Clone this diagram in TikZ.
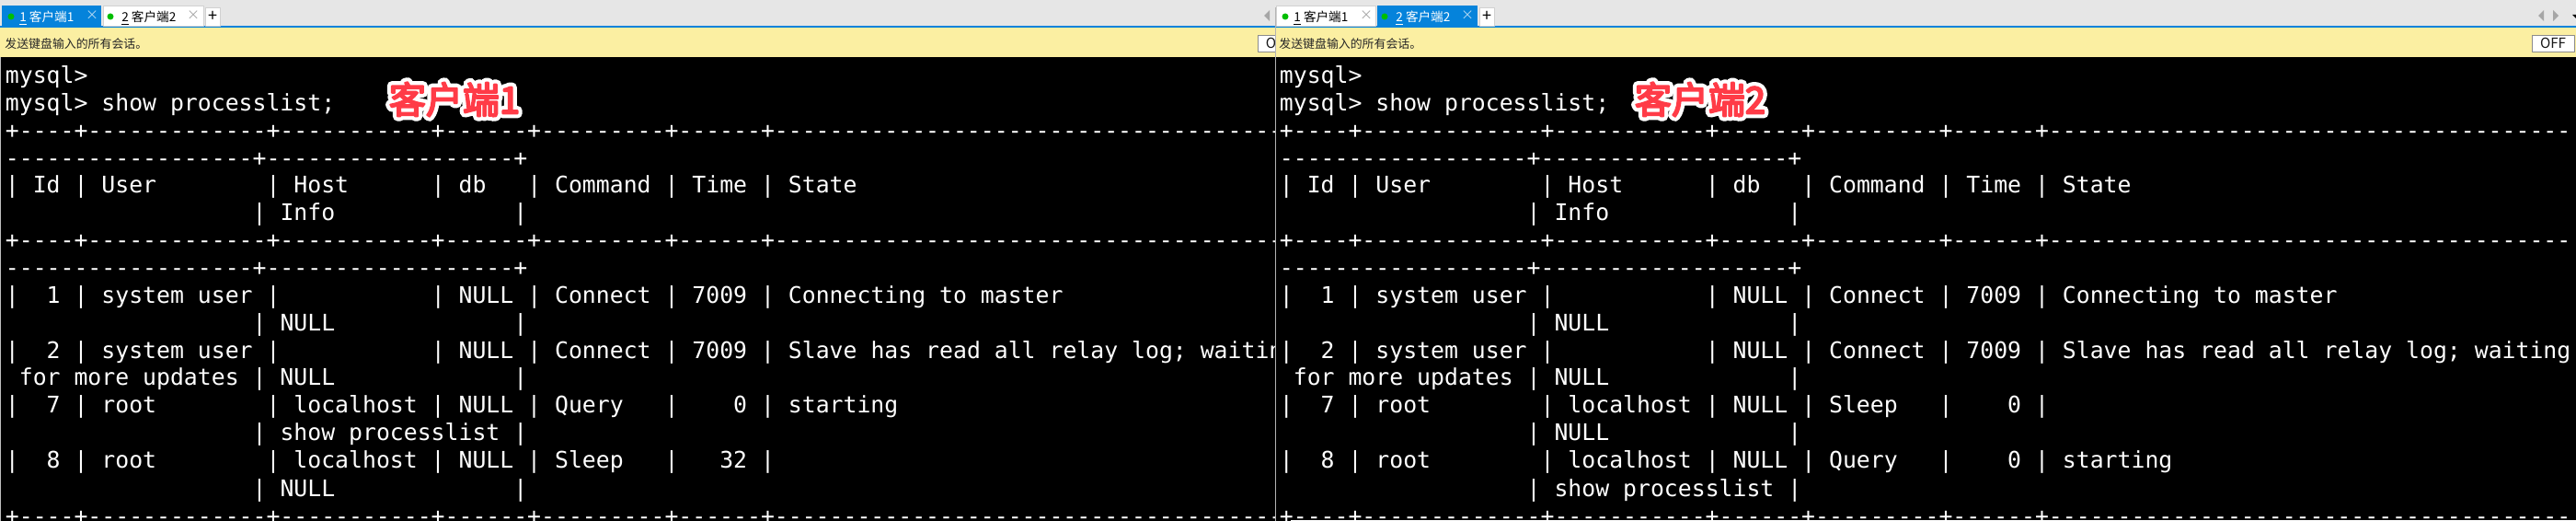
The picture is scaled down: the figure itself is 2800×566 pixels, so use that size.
\documentclass[tikz,border=0pt]{standalone}
\usepackage{fontspec}
\setmonofont{DejaVu Sans Mono}
\newfontfamily\cjk{Noto Sans CJK SC}
\newfontfamily\cjkhalo[FakeBold=26]{Noto Sans CJK SC}
\newfontfamily\cjkred[FakeBold=5]{Noto Sans CJK SC}
\definecolor{tabbar}{HTML}{E6E6E6}
\definecolor{tabblue}{HTML}{0583DB}
\definecolor{notebar}{HTML}{FBEFA2}
\definecolor{paneline}{HTML}{B4B4B4}
\definecolor{dotgreen}{HTML}{00BE00}
\definecolor{labelred}{HTML}{FF3B47}
\tikzset{
    termrow/.style={anchor=base west, inner sep=0pt, text=white, font=\ttfamily\fontsize{12.4pt}{15pt}\selectfont, execute at begin node={\obeyspaces}},
    tabtext/.style={anchor=base west, inner sep=0pt, font=\cjk\fontsize{6.8pt}{8pt}\selectfont},
    tabmark/.style={inner sep=0pt, font=\cjk\fontsize{7pt}{8pt}\selectfont},
    tabplus/.style={inner sep=0pt, text=black, font=\cjk\fontsize{9pt}{10pt}\selectfont},
    notetext/.style={anchor=base west, inner sep=0pt, text=black!85, font=\cjk\fontsize{6.45pt}{8pt}\selectfont},
    offtext/.style={inner sep=0pt, text=black!90, font=\cjk\fontsize{7.6pt}{9pt}\selectfont},
    tabon/.style={fill=tabblue},
    taboff/.style={fill=white, draw=black!18},
    halotext/.style={inner sep=0pt, text=white, font=\cjkhalo\fontsize{20pt}{22pt}\selectfont},
    redtext/.style={inner sep=0pt, text=labelred, font=\cjkred\fontsize{20pt}{22pt}\selectfont}
}

\begin{document}
\begin{tikzpicture}[x=0.5pt, y=-0.5pt, line join=round]
    \useasboundingbox (0, 0) rectangle (2800, 566);
    % left client
    \begin{scope}
        \clip (0, 0) rectangle (1386, 566);
        \fill[tabbar] (0, 0) rectangle (1386, 28);
        \fill[tabblue] (0, 28) rectangle (1386, 30);
        \fill[notebar] (0, 30) rectangle (1386, 62);
        \fill[black] (0, 62) rectangle (1386, 566);
        \draw[black!25] (0.5, 62) -- (0.5, 566);
        \fill[tabon] (2, 6) rectangle (110, 28);
        \draw[taboff] (112, 6) rectangle (221, 28);
        \draw[taboff] (223, 8) rectangle (239, 28);
        \fill[dotgreen] (12, 18) circle (3.5);
        \fill[dotgreen] (120, 18) circle (3.5);
        \node[tabtext, text=white] (ltabone) at (21, 24) {\underline{1} 客户端1};
        \node[tabtext] (ltabtwo) at (132, 24) {\underline{2} 客户端2};
        \node[tabmark, text=white!70!tabblue] (ltabonex) at (100, 17) {×};
        \node[tabmark, text=black!35] (ltabtwox) at (210, 17) {×};
        \node[tabplus] (ltabplus) at (231, 18) {+};
        \node[notetext] (lnote) at (5, 53) {发送键盘输入的所有会话。};
        \fill[black!35] (1374, 17) -- (1380, 11) -- (1380, 23) -- cycle;
        \draw[fill=white, draw=black!45] (1367, 38) rectangle (1413, 56);
        \node[offtext] (loff) at (1390, 47) {OFF};
        \node[termrow] (lrowa) at (5.5, 91) {mysql>};
        \node[termrow] (lrowb) at (5.5, 121) {mysql> show processlist;};
        \node[termrow] (lrowc) at (5.5, 151) {+----+-------------+-----------+------+---------+------+--------------------------------------};
        \node[termrow] (lrowd) at (5.5, 181) {------------------+------------------+};
        \node[termrow] (lrowe) at (5.5, 210) {| Id | User        | Host      | db   | Command | Time | State};
        \node[termrow] (lrowf) at (5.5, 240) {{}                  | Info             |};
        \node[termrow] (lrowg) at (5.5, 270) {+----+-------------+-----------+------+---------+------+--------------------------------------};
        \node[termrow] (lrowh) at (5.5, 300) {------------------+------------------+};
        \node[termrow] (lrowi) at (5.5, 330) {|  1 | system user |           | NULL | Connect | 7009 | Connecting to master};
        \node[termrow] (lrowj) at (5.5, 360) {{}                  | NULL             |};
        \node[termrow] (lrowk) at (5.5, 390) {|  2 | system user |           | NULL | Connect | 7009 | Slave has read all relay log; waiting};
        \node[termrow] (lrowl) at (5.5, 419) {{} for more updates | NULL             |};
        \node[termrow] (lrowm) at (5.5, 449) {|  7 | root        | localhost | NULL | Query   |    0 | starting};
        \node[termrow] (lrown) at (5.5, 479) {{}                  | show processlist |};
        \node[termrow] (lrowo) at (5.5, 509) {|  8 | root        | localhost | NULL | Sleep   |   32 |};
        \node[termrow] (lrowp) at (5.5, 539) {{}                  | NULL             |};
        \node[termrow] (lrowq) at (5.5, 569) {+----+-------------+-----------+------+---------+------+--------------------------------------};
        \node[halotext] (lhalo) at (494, 108) {客户端1};
        \node[redtext] (llabel) at (494, 108) {客户端1};
    \end{scope}
    % right client
    \begin{scope}[shift={(1385, 0)}]
        \fill[tabbar] (1, 0) rectangle (1415, 28);
        \fill[tabblue] (0, 28) rectangle (1415, 30);
        \fill[notebar] (1, 30) rectangle (1415, 62);
        \fill[black] (1, 62) rectangle (1415, 566);
        \draw[paneline] (1, 8) -- (1, 566);
        \draw[taboff] (2, 6) rectangle (110, 28);
        \fill[tabon] (112, 6) rectangle (221, 28);
        \draw[taboff] (223, 8) rectangle (239, 28);
        \fill[dotgreen] (12, 18) circle (3.5);
        \fill[dotgreen] (120, 18) circle (3.5);
        \node[tabtext] (rtabone) at (21, 24) {\underline{1} 客户端1};
        \node[tabtext, text=white] (rtabtwo) at (132, 24) {\underline{2} 客户端2};
        \node[tabmark, text=black!35] (rtabonex) at (100, 17) {×};
        \node[tabmark, text=white!70!tabblue] (rtabtwox) at (210, 17) {×};
        \node[tabplus] (rtabplus) at (231, 18) {+};
        \node[notetext] (rnote) at (5, 53) {发送键盘输入的所有会话。};
        \fill[black!35] (1374, 17) -- (1380, 11) -- (1380, 23) -- cycle;
        \fill[black!35] (1396, 17) -- (1390, 11) -- (1390, 23) -- cycle;
        \fill[black] (1411, 16) -- (1415, 16) -- (1415, 20) -- cycle;
        \draw[fill=white, draw=black!45] (1367, 38) rectangle (1413, 56);
        \node[offtext] (roff) at (1390, 47) {OFF};
        \node[termrow] (rrowa) at (5.5, 91) {mysql>};
        \node[termrow] (rrowb) at (5.5, 121) {mysql> show processlist;};
        \node[termrow] (rrowc) at (5.5, 151) {+----+-------------+-----------+------+---------+------+--------------------------------------};
        \node[termrow] (rrowd) at (5.5, 181) {------------------+------------------+};
        \node[termrow] (rrowe) at (5.5, 210) {| Id | User        | Host      | db   | Command | Time | State};
        \node[termrow] (rrowf) at (5.5, 240) {{}                  | Info             |};
        \node[termrow] (rrowg) at (5.5, 270) {+----+-------------+-----------+------+---------+------+--------------------------------------};
        \node[termrow] (rrowh) at (5.5, 300) {------------------+------------------+};
        \node[termrow] (rrowi) at (5.5, 330) {|  1 | system user |           | NULL | Connect | 7009 | Connecting to master};
        \node[termrow] (rrowj) at (5.5, 360) {{}                  | NULL             |};
        \node[termrow] (rrowk) at (5.5, 390) {|  2 | system user |           | NULL | Connect | 7009 | Slave has read all relay log; waiting};
        \node[termrow] (rrowl) at (5.5, 419) {{} for more updates | NULL             |};
        \node[termrow] (rrowm) at (5.5, 449) {|  7 | root        | localhost | NULL | Sleep   |    0 |};
        \node[termrow] (rrown) at (5.5, 479) {{}                  | NULL             |};
        \node[termrow] (rrowo) at (5.5, 509) {|  8 | root        | localhost | NULL | Query   |    0 | starting};
        \node[termrow] (rrowp) at (5.5, 539) {{}                  | show processlist |};
        \node[termrow] (rrowq) at (5.5, 569) {+----+-------------+-----------+------+---------+------+--------------------------------------};
        \fill[white] (18, 565) rectangle (1415, 566);
        \node[halotext] (rhalo) at (463, 108) {客户端2};
        \node[redtext] (rlabel) at (463, 108) {客户端2};
    \end{scope}
\end{tikzpicture}
\end{document}
